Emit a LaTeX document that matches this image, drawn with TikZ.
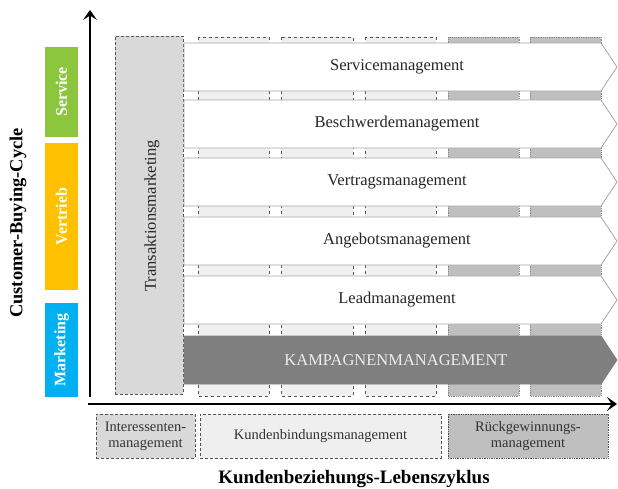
\documentclass[tikz,border=0pt]{standalone}
\usepackage{fontspec}
\setmainfont{Liberation Serif}
\usetikzlibrary{arrows.meta}
\definecolor{colLight}{HTML}{EFEFEF}
\definecolor{colDark}{HTML}{BFBFBF}
\definecolor{colTrans}{HTML}{D9D9D9}
\definecolor{colBorder}{HTML}{555555}
\definecolor{colArrowLine}{HTML}{A6A6A6}
\definecolor{colKamp}{HTML}{7F7F7F}
\definecolor{colGreen}{HTML}{8CC63F}
\definecolor{colOrange}{HTML}{FFC000}
\definecolor{colBlue}{HTML}{00B0F0}
\tikzset{
  lightcol/.style={fill=colLight, draw=colBorder, dashed, line width=0.8pt},
  darkcol/.style={fill=colDark, draw=colBorder!70, densely dotted, line width=0.8pt},
  whitearrow/.style={fill=white, draw=colArrowLine, line width=0.8pt},
  kamparrow/.style={fill=colKamp, draw=colKamp, line width=0.8pt},
  rowtext/.style={font=\fontsize{16.5}{18}\selectfont, text=black!85},
  barlabel/.style={font=\fontsize{16}{18}\selectfont\bfseries, text=white, rotate=90},
  bottombox/.style={draw=colBorder, densely dashed, line width=0.7pt, align=center,
     font=\fontsize{14.5}{16}\selectfont, text=black!80},
  axis/.style={line width=2.6pt, -{Stealth[length=10pt,width=14pt,inset=4.5pt]}},
}
\newcommand\rowarrow[5]{%
  \draw[#3] (184,#1) -- (601,#1) -- (617,{(#1+#2)/2}) -- (601,#2) -- (184,#2) -- cycle;
  \node[rowtext] (#4) at (397,{(#1+#2)/2}) {#5};}
\begin{document}
\begin{tikzpicture}[x=1pt,y=-1pt]
\useasboundingbox (0,0) rectangle (618,488);
% columns
\draw[lightcol] (198,37) rectangle (269,396);
\draw[lightcol] (281,37) rectangle (353,396);
\draw[lightcol] (365,37) rectangle (436,396);
\draw[darkcol] (448,37) rectangle (519,396);
\draw[darkcol] (530,37) rectangle (601,396);
% Transaktionsmarketing
\node[draw=colBorder, fill=colTrans, densely dashed, line width=0.8pt,
      minimum width=68pt, minimum height=358pt, inner sep=0] (trans) at (149,215) {};
\node[rowtext, rotate=90] (transtext) at (152,216) {Transaktionsmarketing};
% arrows
\rowarrow{43}{91}{whitearrow}{service}{Servicemanagement}
\rowarrow{100}{148}{whitearrow}{beschwerde}{Beschwerdemanagement}
\rowarrow{158}{206}{whitearrow}{vertrag}{Vertragsmanagement}
\rowarrow{217}{265}{whitearrow}{angebot}{Angebotsmanagement}
\rowarrow{276}{324}{whitearrow}{lead}{Leadmanagement}
\draw[kamparrow] (184,336) -- (601,336) -- (617,360) -- (601,384) -- (184,384) -- cycle;
\node[rowtext, text=white!93!black] (kamp) at (396,360) {KAMPAGNENMANAGEMENT};
% colored bars
\node[fill=colGreen, minimum width=33pt, minimum height=90pt, inner sep=0] (barS) at (61.5,92) {};
\node[barlabel] (barStext) at (barS) {Service};
\node[fill=colOrange, minimum width=33pt, minimum height=147pt, inner sep=0] (barV) at (61.5,216.5) {};
\node[barlabel] (barVtext) at (barV) {Vertrieb};
\node[fill=colBlue, minimum width=33pt, minimum height=94pt, inner sep=0] (barM) at (61.5,350) {};
\node[barlabel] (barMtext) at (barM) {Marketing};
% axes
\coordinate (vstart) at (90,397);
\coordinate (vend) at (90,10);
\coordinate (hstart) at (88,404);
\coordinate (hend) at (617,404);
\draw[axis] (vstart) -- (vend);
\draw[axis] (hstart) -- (hend);
\node[font=\fontsize{18.4}{20}\selectfont\bfseries, rotate=90] (cbc) at (18,223) {Customer-Buying-Cycle};
% bottom boxes
\node[bottombox, fill=colTrans, minimum width=99pt, minimum height=44pt, inner sep=1pt] (interessenten) at (145.5,436) {Interessenten-\\management};
\node[bottombox, fill=colLight, minimum width=241pt, minimum height=44pt] (bindung) at (320.5,436) {Kundenbindungsmanagement};
\node[bottombox, fill=colDark, densely dotted, minimum width=160pt, minimum height=44pt] (rueck) at (528,436) {Rückgewinnungs-\\management};
\node[font=\fontsize{19}{21}\selectfont\bfseries] (klz) at (354,479) {Kundenbeziehungs-Lebenszyklus};
\end{tikzpicture}
\end{document}
